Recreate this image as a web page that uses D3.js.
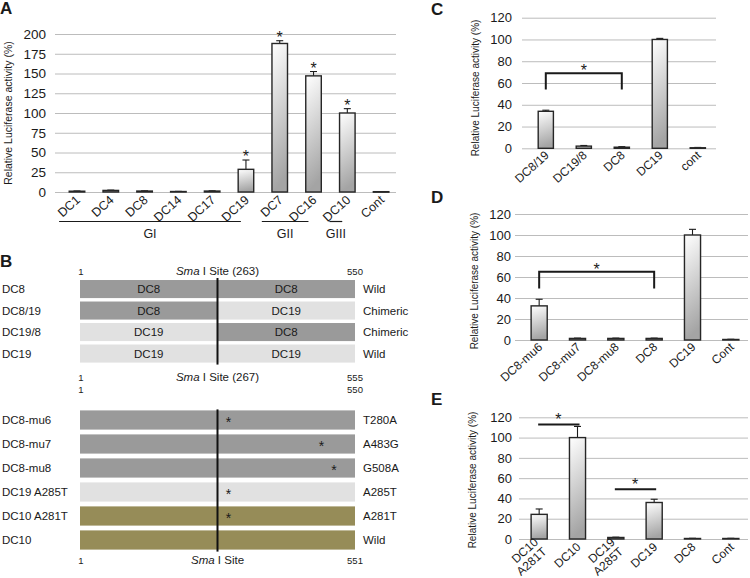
<!DOCTYPE html>
<html><head><meta charset="utf-8">
<script src="https://cdn.jsdelivr.net/npm/d3@7"></script>
<style>
body{margin:0;background:#fff}
svg{display:block}
text{font-family:"Liberation Sans",Arial,Helvetica,sans-serif;fill:#1a1a1a}
</style>
</head><body>
<svg id="c" width="750" height="578"></svg>
<script>
// ---------- DATA ----------
// Panel A
const aCats = ["DC1","DC4","DC8","DC14","DC17","DC19","DC7","DC16","DC10","Cont"];
const aVals = [1, 2, 1.2, 0.6, 1.2, 28.7, 188, 147, 100, 0.4];
const aErrs = [0.3, 0.4, 0.3, 0.2, 0.3, 11.8, 3.5, 5.5, 5.5, 0.2];
const aSig  = [false,false,false,false,false,true,true,true,true,false];
const aTicks = [0,25,50,75,100,125,150,175,200];
const aGroups = [
  {label:"GI",  from:"DC1",  to:"DC19"},
  {label:"GII", from:"DC7",  to:"DC16"},
  {label:"GIII",from:"DC10", to:"DC10"}
];
// Panel C
const cCats = ["DC8/19","DC19/8","DC8","DC19","cont"];
const cVals = [34, 2, 1, 100, 0.5];
const cErrs = [1, 0.6, 0.5, 1, 0.3];
const cTicks = [0,20,40,60,80,100,120];
const cBracket = {from:"DC8/19", to:"DC8", top:69, leg:54};
// Panel D
const dCats = ["DC8-mu6","DC8-mu7","DC8-mu8","DC8","DC19","Cont"];
const dVals = [32.5, 1.5, 1.5, 1.5, 100, 0.5];
const dErrs = [6.3, 0.3, 0.3, 0.3, 5.4, 0.2];
const dTicks = [0,20,40,60,80,100,120];
const dBracket = {from:"DC8-mu6", to:"DC8", top:65, leg:49};
// Panel E
const eCats = ["DC10\nA281T","DC10","DC19\nA285T","DC19","DC8","Cont"];
const eVals = [24.3, 100, 1.5, 36, 0.5, 0.5];
const eErrs = [5.3, 11, 0.3, 3.2, 0.2, 0.2];
const eTicks = [0,20,40,60,80,100,120];
const eSigLines = [
  {from:"DC10\nA281T", to:"DC10", level:113},
  {from:"DC19\nA285T", to:"DC19", level:49}
];
// Panel B
const bTypeColors = {DC8:"#9a9a9a", DC19:"#e1e1e1", DC10:"#968c58"};
const bRowsTop = [
  {label:"DC8",    left:"DC8",  right:"DC8",  note:"Wild"},
  {label:"DC8/19", left:"DC8",  right:"DC19", note:"Chimeric"},
  {label:"DC19/8", left:"DC19", right:"DC8",  note:"Chimeric"},
  {label:"DC19",   left:"DC19", right:"DC19", note:"Wild"}
];
const bRowsMut = [
  {label:"DC8-mu6",    type:"DC8",  mut:280, note:"T280A"},
  {label:"DC8-mu7",    type:"DC8",  mut:483, note:"A483G"},
  {label:"DC8-mu8",    type:"DC8",  mut:508, note:"G508A"},
  {label:"DC19 A285T", type:"DC19", mut:285, note:"A285T"},
  {label:"DC10 A281T", type:"DC10", mut:281, note:"A281T"},
  {label:"DC10",       type:"DC10", mut:null, note:"Wild"}
];
const bScaleLabels = [
  {start:"1", site:"(263)", end:"550"},
  {start:"1", site:"(267)", end:"555"},
  {start:"1", site:null,    end:"550"},
  {start:"1", site:"",      end:"551"}
];

// ---------- DRAWING ----------
const svg = d3.select("#c");
const defs = svg.append("defs");
const grad = defs.append("linearGradient").attr("id","barGrad")
  .attr("x1",0).attr("y1",0).attr("x2",0.15).attr("y2",1);
grad.append("stop").attr("offset","0%").attr("stop-color","#ffffff");
grad.append("stop").attr("offset","100%").attr("stop-color","#a4a4a4");

function panelLetter(t, x, y){
  svg.append("text").attr("x",x).attr("y",y).attr("font-size",17)
    .attr("font-weight","bold").attr("fill","#111").text(t);
}

function barChart(cfg){
  const g = svg.append("g");
  const x = d3.scaleBand().domain(cfg.cats).range(cfg.xr)
    .paddingInner(cfg.pad).paddingOuter(cfg.pad/2);
  const y = d3.scaleLinear().domain([0, cfg.max]).range(cfg.yr);
  const ax = g.append("g").attr("transform",`translate(${cfg.gridX0},0)`)
    .call(d3.axisLeft(y).tickValues(cfg.ticks).tickSize(-(cfg.gridX1-cfg.gridX0))
      .tickPadding(cfg.tickPad).tickFormat(d3.format("d")));
  ax.select(".domain").remove();
  ax.selectAll(".tick line").attr("stroke","#bcbcbc").attr("stroke-width",1);
  ax.selectAll(".tick text").attr("font-size",cfg.tickFont)
    .attr("font-family",'"Liberation Sans",Arial,sans-serif').attr("fill","#1a1a1a");
  g.append("text").attr("transform",`translate(${cfg.titleX},${cfg.titleY}) rotate(-90)`)
    .attr("text-anchor","middle").attr("font-size",cfg.titleFont)
    .text("Relative Luciferase activity (%)");
  const data = cfg.cats.map((c,i)=>({c, v:cfg.vals[i], e:cfg.errs[i], s:cfg.sig?cfg.sig[i]:false}));
  const eg = g.append("g").attr("stroke","#1a1a1a").attr("stroke-width",1.1);
  data.forEach(d=>{
    const cx = x(d.c)+x.bandwidth()/2;
    eg.append("line").attr("x1",cx).attr("x2",cx).attr("y1",y(d.v)).attr("y2",y(d.v+d.e));
    eg.append("line").attr("x1",cx-3.5).attr("x2",cx+3.5).attr("y1",y(d.v+d.e)).attr("y2",y(d.v+d.e));
  });
  g.selectAll("rect.bar").data(data).join("rect")
    .attr("x",d=>x(d.c)).attr("width",x.bandwidth())
    .attr("y",d=>y(d.v)).attr("height",d=>Math.max(0.5,y(0)-y(d.v)))
    .attr("fill","url(#barGrad)").attr("stroke","#262626").attr("stroke-width",1.4);
  g.selectAll("text.ast").data(data.filter(d=>d.s)).join("text")
    .attr("x",d=>x(d.c)+x.bandwidth()/2).attr("y",d=>y(d.v+d.e)+2)
    .attr("text-anchor","middle").attr("font-size",16).text("*");
  data.forEach(d=>{
    const cx = x(d.c)+x.bandwidth()/2;
    const lines = d.c.split("\n");
    const t = g.append("text")
      .attr("transform",`translate(${cx+cfg.labDx},${y(0)+cfg.labDy}) rotate(${cfg.rot})`)
      .attr("text-anchor","end").attr("font-size",cfg.labFont);
    lines.forEach((ln,i)=>{
      t.append("tspan").attr("x",0)
        .attr("y",(i-(lines.length-1)/2)*cfg.labFont*1.05).text(ln);
    });
  });
  if(cfg.bracket){
    const b = cfg.bracket;
    const xa = x(b.from)+x.bandwidth()/2, xb = x(b.to)+x.bandwidth()/2;
    g.append("path").attr("d",`M${xa},${y(b.leg)}V${y(b.top)}H${xb}V${y(b.leg)}`)
      .attr("fill","none").attr("stroke","#1a1a1a").attr("stroke-width",2);
    g.append("text").attr("x",(xa+xb)/2).attr("y",y(b.top)+3)
      .attr("text-anchor","middle").attr("font-size",16).text("*");
  }
  if(cfg.sigLines){
    cfg.sigLines.forEach(s=>{
      const xa = x(s.from)+x.bandwidth()/2, xb = x(s.to)+x.bandwidth()/2;
      g.append("line").attr("x1",xa-1).attr("x2",xb+2).attr("y1",y(s.level)).attr("y2",y(s.level))
        .attr("stroke","#1a1a1a").attr("stroke-width",2);
      g.append("text").attr("x",(xa+xb)/2).attr("y",y(s.level)+1)
        .attr("text-anchor","middle").attr("font-size",16).text("*");
    });
  }
  return {g,x,y};
}

// Panel A
panelLetter("A",0,14);
const A = barChart({cats:aCats, vals:aVals, errs:aErrs, sig:aSig, ticks:aTicks, max:200,
  xr:[60.1,398], yr:[192,34], pad:0.54, gridX0:55, gridX1:396, tickPad:9, tickFont:13.5,
  titleX:12, titleY:113, titleFont:10.5, labDx:4, labDy:9, rot:-42, labFont:12.5});
aGroups.forEach(gr=>{
  const step = A.x.step();
  const xs = A.x(gr.from) - step*0.3;
  const xe = A.x(gr.to) + A.x.bandwidth() - step*0.38;
  A.g.append("line").attr("x1",xs).attr("x2",xe).attr("y1",221.5).attr("y2",221.5)
    .attr("stroke","#1a1a1a").attr("stroke-width",1.2);
  A.g.append("text").attr("x",(xs+xe)/2).attr("y",238).attr("text-anchor","middle")
    .attr("font-size",12.5).text(gr.label);
});

// Panel C
panelLetter("C",431,15);
barChart({cats:cCats, vals:cVals, errs:cErrs, ticks:cTicks, max:120,
  xr:[526.8,716.8], yr:[148.3,17.7], pad:0.6, gridX0:522, gridX1:716, tickPad:10, tickFont:13,
  titleX:479, titleY:88, titleFont:10, labDx:4, labDy:8, rot:-42, labFont:12, bracket:cBracket});

// Panel D
panelLetter("D",431,203);
barChart({cats:dCats, vals:dVals, errs:dErrs, ticks:dTicks, max:120,
  xr:[520,750], yr:[340,214], pad:0.58, gridX0:515, gridX1:748, tickPad:4, tickFont:13,
  titleX:478, titleY:281, titleFont:10, labDx:4, labDy:8, rot:-42, labFont:12, bracket:dBracket});

// Panel E
panelLetter("E",431,405);
barChart({cats:eCats, vals:eVals, errs:eErrs, ticks:eTicks, max:120,
  xr:[520,750], yr:[539,417.3], pad:0.58, gridX0:519, gridX1:748, tickPad:7, tickFont:13,
  titleX:476, titleY:480, titleFont:10, labDx:4, labDy:9, rot:-42, labFont:12, sigLines:eSigLines});

// Panel B
panelLetter("B",0,267);
(function(){
  const g = svg.append("g");
  const xB = d3.scaleLinear().domain([1,550]).range([80,355]);
  const [bx0,bx1] = xB.range();
  const mid = (bx0+bx1)/2; // Sma I site drawn at the schematic centre
  const yTop = d3.scaleBand().domain(bRowsTop.map(d=>d.label)).range([278.3,364.3])
    .paddingInner(0.16).paddingOuter(0.08);
  const yMut = d3.scaleBand().domain(bRowsMut.map(d=>d.label)).range([408,552])
    .paddingInner(0.2).paddingOuter(0.1);
  const fs = 11.5;

  function scaleLabel(lbl, yBase){
    g.append("text").attr("x",bx0+1).attr("y",yBase).attr("text-anchor","middle")
      .attr("font-size",9.5).text(lbl.start);
    g.append("text").attr("x",bx1).attr("y",yBase).attr("text-anchor","middle")
      .attr("font-size",9.5).text(lbl.end);
    if(lbl.site!==null){
      const t = g.append("text").attr("x",mid).attr("y",yBase).attr("text-anchor","middle")
        .attr("font-size",11.5);
      t.append("tspan").attr("font-style","italic").text("Sma");
      t.append("tspan").text(" I Site" + (lbl.site ? " "+lbl.site : ""));
    }
  }

  bRowsTop.forEach(r=>{
    const y = yTop(r.label), h = yTop.bandwidth(), cy = y+h/2;
    g.append("rect").attr("x",bx0).attr("y",y).attr("width",mid-bx0).attr("height",h)
      .attr("fill",bTypeColors[r.left]);
    g.append("rect").attr("x",mid).attr("y",y).attr("width",bx1-mid).attr("height",h)
      .attr("fill",bTypeColors[r.right]);
    g.append("text").attr("x",(bx0+mid)/2).attr("y",cy).attr("dy","0.36em")
      .attr("text-anchor","middle").attr("font-size",fs).text(r.left);
    g.append("text").attr("x",(mid+bx1)/2).attr("y",cy).attr("dy","0.36em")
      .attr("text-anchor","middle").attr("font-size",fs).text(r.right);
    g.append("text").attr("x",2).attr("y",cy).attr("dy","0.36em").attr("font-size",fs).text(r.label);
    g.append("text").attr("x",363).attr("y",cy).attr("dy","0.36em").attr("font-size",fs).text(r.note);
  });
  const t0 = yTop(bRowsTop[0].label), t1 = yTop(bRowsTop[bRowsTop.length-1].label)+yTop.bandwidth();
  g.append("line").attr("x1",mid).attr("x2",mid).attr("y1",t0-2).attr("y2",t1+2)
    .attr("stroke","#111").attr("stroke-width",2);

  bRowsMut.forEach(r=>{
    const y = yMut(r.label), h = yMut.bandwidth(), cy = y+h/2;
    g.append("rect").attr("x",bx0).attr("y",y).attr("width",bx1-bx0).attr("height",h)
      .attr("fill",bTypeColors[r.type]);
    if(r.mut!==null){
      g.append("text").attr("x",Math.max(xB(r.mut), mid+11)).attr("y",cy+6.5)
        .attr("text-anchor","middle").attr("font-size",14).text("*");
    }
    g.append("text").attr("x",2).attr("y",cy).attr("dy","0.36em").attr("font-size",fs).text(r.label);
    g.append("text").attr("x",363).attr("y",cy).attr("dy","0.36em").attr("font-size",fs).text(r.note);
  });
  const m0 = yMut(bRowsMut[0].label), m1 = yMut(bRowsMut[bRowsMut.length-1].label)+yMut.bandwidth();
  g.append("line").attr("x1",mid).attr("x2",mid).attr("y1",m0-1).attr("y2",m1+2)
    .attr("stroke","#111").attr("stroke-width",2);

  scaleLabel(bScaleLabels[0], 275);
  scaleLabel(bScaleLabels[1], 381);
  scaleLabel(bScaleLabels[2], 393);
  scaleLabel(bScaleLabels[3], 564);
})();
</script>
</body></html>
